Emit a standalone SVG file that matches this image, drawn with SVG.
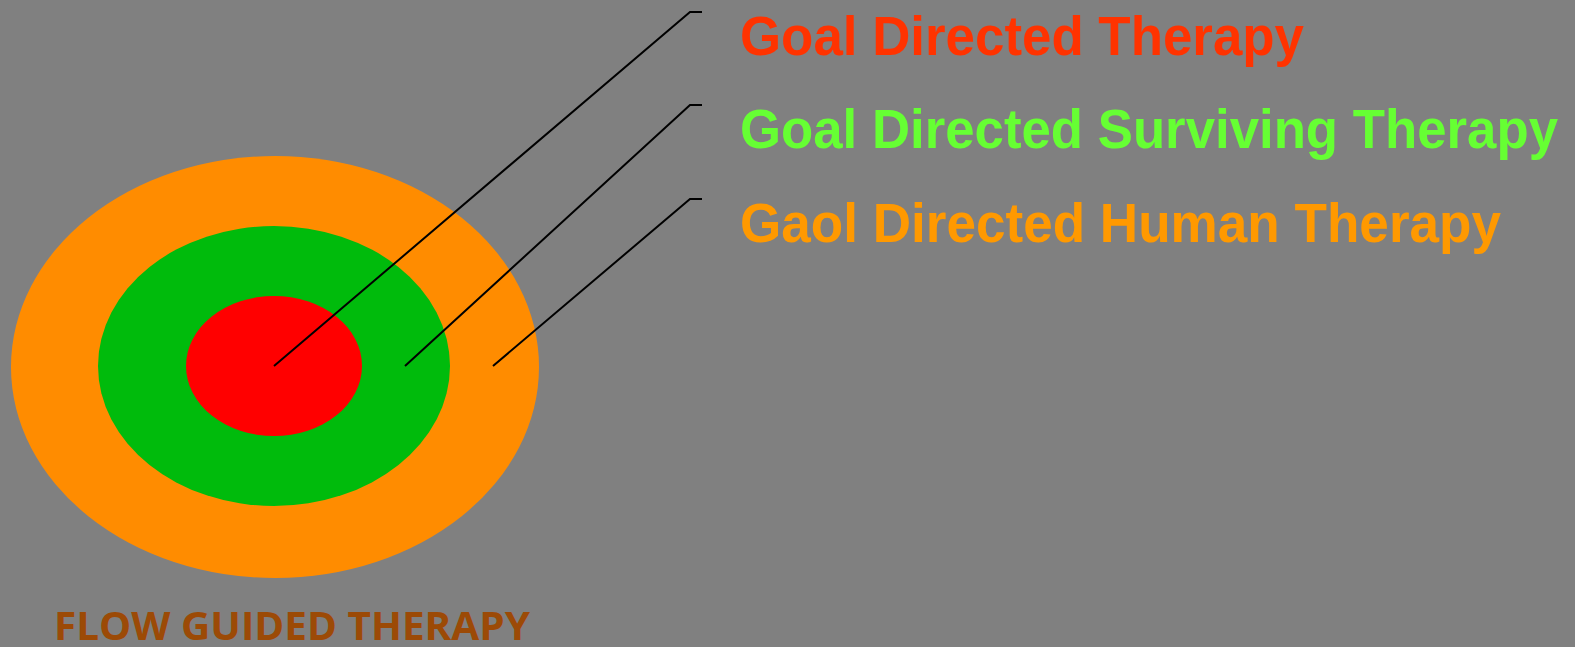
<svg xmlns="http://www.w3.org/2000/svg" width="1575" height="647" viewBox="0 0 1575 647">
<style>
.lbl{font-family:"Liberation Sans",Arial,sans-serif;font-weight:bold;font-size:55px}
.lead{fill:none;stroke:#000;stroke-width:2}
</style>
<rect x="0" y="0" width="1575" height="647" fill="#808080"/>
<g id="outer"><ellipse cx="275" cy="367" rx="264" ry="211" fill="#FF8C00"/></g>
<g id="middle"><ellipse cx="274" cy="366" rx="176" ry="140" fill="#00BB0C"/></g>
<g id="inner"><ellipse cx="274" cy="366" rx="88" ry="70" fill="#FF0000"/></g>
<g id="connectors">
<polyline class="lead" points="274,366 690,12 702,12"/>
<polyline class="lead" points="405,366 690,105 702,105"/>
<polyline class="lead" points="493,366 690,199 702,199"/>
</g>
<g id="label-goal"><text class="lbl" x="740" y="55" fill="#FF3300" textLength="564" lengthAdjust="spacingAndGlyphs">Goal Directed Therapy</text></g>
<g id="label-surviving"><text class="lbl" x="740" y="148" fill="#66FF33" textLength="818" lengthAdjust="spacingAndGlyphs">Goal Directed Surviving Therapy</text></g>
<g id="label-human"><text class="lbl" x="740" y="242" fill="#FF9900" textLength="761" lengthAdjust="spacingAndGlyphs">Gaol Directed Human Therapy</text></g>
<g id="label-flow"><text x="54" y="640" fill="#9C4A06" font-family="'Open Sans','Noto Sans',sans-serif" font-weight="bold" font-size="40" textLength="476" lengthAdjust="spacingAndGlyphs">FLOW GUIDED THERAPY</text></g>
</svg>
